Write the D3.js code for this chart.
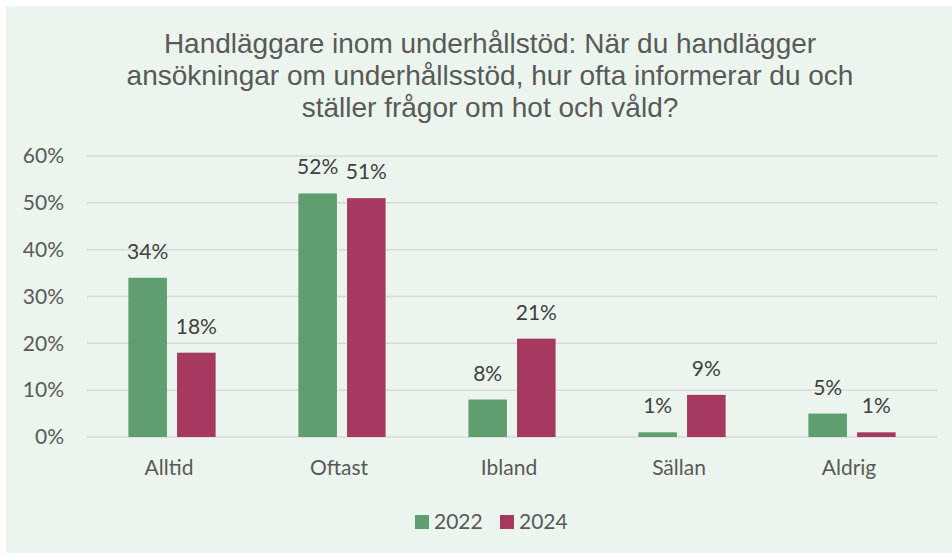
<!DOCTYPE html>
<html>
<head>
<meta charset="utf-8">
<script src="https://cdn.jsdelivr.net/npm/d3@7"></script>
<style>
  body { margin: 0; background: #ffffff; }
  svg { display: block; }
</style>
</head>
<body>
<div id="chart"></div>
<script>
"use strict"

// Chart data
const categories = ["Alltid", "Oftast", "Ibland", "Sällan", "Aldrig"];
const years = ["2022", "2024"];
const values2022 = [34, 52, 8, 1, 5];
const values2024 = [18, 51, 21, 9, 1];
const yTicks = [0, 10, 20, 30, 40, 50, 60];
const titleLines = [
  "Handläggare inom underhållstöd: När du handlägger",
  "ansökningar om underhållsstöd, hur ofta informerar du och",
  "ställer frågor om hot och våld?"
];

const colors = {"2022": "#5f9e6e", "2024": "#a5395f"};

const figWidth = 952;
const figHeight = 553;
const plotArea = {left: 87, right: 937, top: 156, bottom: 437};
const labelFont = "Lato, 'Open Sans', sans-serif";
const labelSize = 21;

const data = categories.map((c, i) => ({
  category: c,
  values: [
    {year: "2022", value: values2022[i]},
    {year: "2024", value: values2024[i]}
  ]
}));

const svg = d3.select("#chart").append("svg")
  .attr("width", figWidth)
  .attr("height", figHeight);

// Chart background (slight offset like the original)
svg.append("rect")
  .attr("x", 6)
  .attr("y", 6)
  .attr("width", figWidth - 6)
  .attr("height", figHeight - 6)
  .attr("fill", "#ebf5ee");

// Title
svg.append("text")
  .attr("text-anchor", "middle")
  .attr("font-family", "'Liberation Sans', Arial, sans-serif")
  .attr("font-size", 28)
  .attr("fill", "#595959")
  .selectAll("tspan")
  .data(titleLines)
  .join("tspan")
    .attr("x", 490)
    .attr("y", (d, i) => 53 + i * 32)
    .text(d => d);

// Scales
const xScale = d3.scaleBand()
  .domain(categories)
  .range([plotArea.left, plotArea.right])
  .paddingInner(0.487)
  .paddingOuter(0.2435);

const xInner = d3.scaleBand()
  .domain(years)
  .range([0, xScale.bandwidth()])
  .paddingInner(0.208);

const yScale = d3.scaleLinear()
  .domain([0, 60])
  .range([plotArea.bottom, plotArea.top]);

// Gridlines
svg.append("g")
  .selectAll("line")
  .data(yTicks)
  .join("line")
    .attr("x1", plotArea.left)
    .attr("x2", plotArea.right)
    .attr("y1", d => yScale(d))
    .attr("y2", d => yScale(d))
    .attr("stroke", "#d9d9d9")
    .attr("stroke-width", 1.5);

// Y axis (labels only)
const yAxis = d3.axisLeft(yScale)
  .tickValues(yTicks)
  .tickFormat(d => d + "%")
  .tickSize(0)
  .tickPadding(0);

svg.append("g")
  .attr("transform", `translate(64, 0)`)
  .call(yAxis)
  .call(g => g.select(".domain").remove())
  .selectAll("text")
    .attr("font-family", labelFont)
    .attr("font-size", labelSize)
    .attr("fill", "#595959");

// X axis (labels only)
const xAxis = d3.axisBottom(xScale)
  .tickSize(0)
  .tickPadding(0);

svg.append("g")
  .attr("transform", `translate(-3, 475)`)
  .call(xAxis)
  .call(g => g.select(".domain").remove())
  .selectAll("text")
    .attr("dy", 0)
    .attr("font-family", labelFont)
    .attr("font-size", labelSize)
    .attr("fill", "#595959");

// Bars
const groups = svg.append("g")
  .selectAll("g")
  .data(data)
  .join("g")
    .attr("transform", d => `translate(${xScale(d.category)}, 0)`);

groups.selectAll("rect")
  .data(d => d.values)
  .join("rect")
    .attr("x", d => xInner(d.year))
    .attr("y", d => yScale(d.value))
    .attr("width", xInner.bandwidth())
    .attr("height", d => yScale(0) - yScale(d.value))
    .attr("fill", d => colors[d.year]);

// Data labels
groups.selectAll("text")
  .data(d => d.values)
  .join("text")
    .attr("x", d => xInner(d.year) + xInner.bandwidth() / 2)
    .attr("y", d => yScale(d.value) - 19)
    .attr("text-anchor", "middle")
    .attr("font-family", labelFont)
    .attr("font-size", labelSize)
    .attr("fill", "#404040")
    .text(d => d.value + "%");

// Legend
const legend = svg.append("g")
  .attr("transform", "translate(415, 529)");

const legendItems = legend.selectAll("g")
  .data(years)
  .join("g")
    .attr("transform", (d, i) => `translate(${i * 85}, 0)`);

legendItems.append("rect")
  .attr("x", 0)
  .attr("y", -14)
  .attr("width", 14)
  .attr("height", 14)
  .attr("fill", d => colors[d]);

legendItems.append("text")
  .attr("x", 19)
  .attr("y", 0)
  .attr("font-family", labelFont)
  .attr("font-size", labelSize)
  .attr("fill", "#595959")
  .text(d => d);
</script>
</body>
</html>
